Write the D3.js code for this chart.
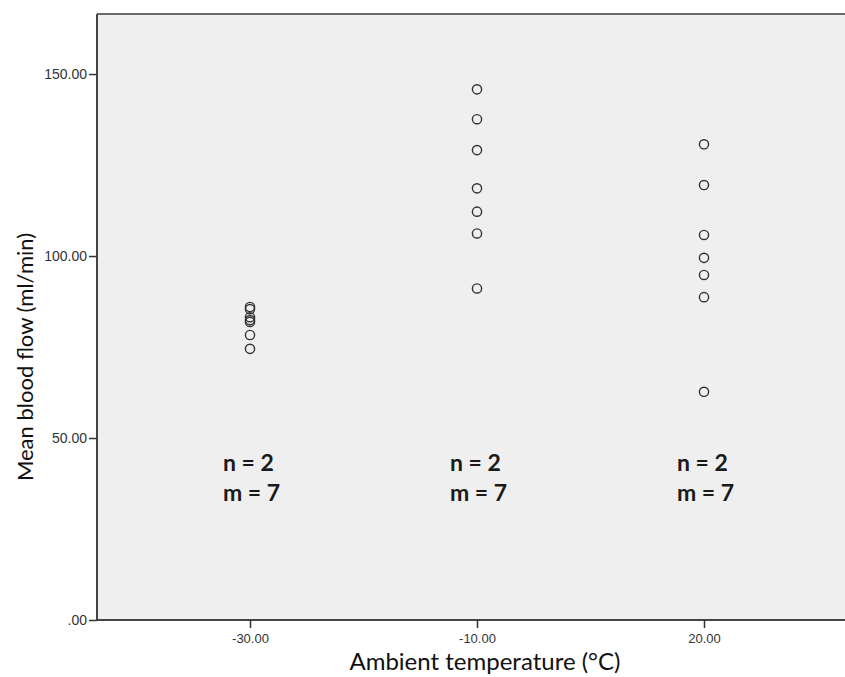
<!DOCTYPE html>
<html>
<head>
<meta charset="utf-8">
<script src="https://cdn.jsdelivr.net/npm/d3@7"></script>
<style>
  html, body { margin: 0; padding: 0; background: #fff; }
  svg { display: block; }
</style>
</head>
<body>
<svg id="chart" width="845" height="677"></svg>
<script>
// Ambient temperature groups and mean blood flow per subject reading
const temperatures = ["-30.00", "-10.00", "20.00"];
const flowAtMinus30 = [86.0, 85.4, 83.2, 82.4, 81.9, 78.3, 74.5];
const flowAtMinus10 = [145.8, 137.6, 129.1, 118.6, 112.2, 106.2, 91.1];
const flowAt20 = [130.7, 119.5, 105.8, 99.5, 94.8, 88.7, 62.7];
const yTicks = [0, 50, 100, 150];
const groupNotes = ["n = 2", "m = 7"];

const series = [flowAtMinus30, flowAtMinus10, flowAt20];
const points = [];
series.forEach((vals, i) => vals.forEach(v => points.push({ t: temperatures[i], v })));

const svg = d3.select("#chart");
const plotLeft = 97, plotTop = 14, plotBottom = 620, plotRight = 857;

const x = d3.scalePoint().domain(temperatures).range([plotLeft, plotRight]).padding(0.674);
const y = d3.scaleLinear().domain([0, 166.5]).range([plotBottom, plotTop]);

// plot background
svg.append("rect")
  .attr("x", plotLeft).attr("y", plotTop)
  .attr("width", plotRight - plotLeft).attr("height", plotBottom - plotTop)
  .attr("fill", "#efefef");

// frame: top edge
svg.append("line")
  .attr("x1", plotLeft).attr("x2", plotRight).attr("y1", plotTop).attr("y2", plotTop)
  .attr("stroke", "#6a6a6a").attr("stroke-width", 2);

// y axis
const yAxis = svg.append("g")
  .attr("transform", `translate(${plotLeft},0)`)
  .call(d3.axisLeft(y).tickValues(yTicks).tickSize(8).tickPadding(2)
    .tickFormat(d => d === 0 ? ".00" : d3.format(".2f")(d)));
yAxis.select(".domain").attr("stroke", "#444").attr("stroke-width", 2)
  .attr("d", `M0,${plotTop}V${plotBottom}`);
yAxis.selectAll(".tick line").attr("stroke", "#333").attr("stroke-width", 1.5);
yAxis.selectAll(".tick text")
  .attr("font-family", "Liberation Sans, Arial, sans-serif")
  .attr("font-size", 14).attr("fill", "#333");

// x axis
const xAxis = svg.append("g")
  .attr("transform", `translate(0,${plotBottom})`)
  .call(d3.axisBottom(x).tickSize(8).tickPadding(6));
xAxis.select(".domain").attr("stroke", "#444").attr("stroke-width", 2)
  .attr("d", `M${plotLeft},0H${plotRight}`);
xAxis.selectAll(".tick line").attr("stroke", "#333").attr("stroke-width", 1.5);
xAxis.selectAll(".tick text")
  .attr("font-family", "Liberation Sans, Arial, sans-serif")
  .attr("font-size", 13).attr("fill", "#333");

// data points
svg.append("g").selectAll("circle")
  .data(points)
  .join("circle")
  .attr("cx", d => x(d.t))
  .attr("cy", d => y(d.v))
  .attr("r", 4.6)
  .attr("fill", "none")
  .attr("stroke", "#333")
  .attr("stroke-width", 1.4);

// sample-size notes under each group
const notes = svg.append("g")
  .attr("font-family", "Lato, sans-serif")
  .attr("font-weight", "bold")
  .attr("font-size", 23)
  .attr("fill", "#1a1a1a");
temperatures.forEach(t => {
  groupNotes.forEach((txt, j) => {
    notes.append("text")
      .attr("x", x(t) - 27)
      .attr("y", 471 + j * 30)
      .text(txt);
  });
});

// axis titles
svg.append("text")
  .attr("x", 485).attr("y", 670)
  .attr("text-anchor", "middle")
  .attr("font-family", "Lato, sans-serif")
  .attr("font-size", 24)
  .attr("fill", "#111")
  .text("Ambient temperature (°C)");

svg.append("text")
  .attr("transform", "translate(33,357) rotate(-90)")
  .attr("text-anchor", "middle")
  .attr("font-family", "Lato, sans-serif")
  .attr("font-size", 22)
  .attr("fill", "#111")
  .text("Mean blood flow (ml/min)");
</script>
</body>
</html>
